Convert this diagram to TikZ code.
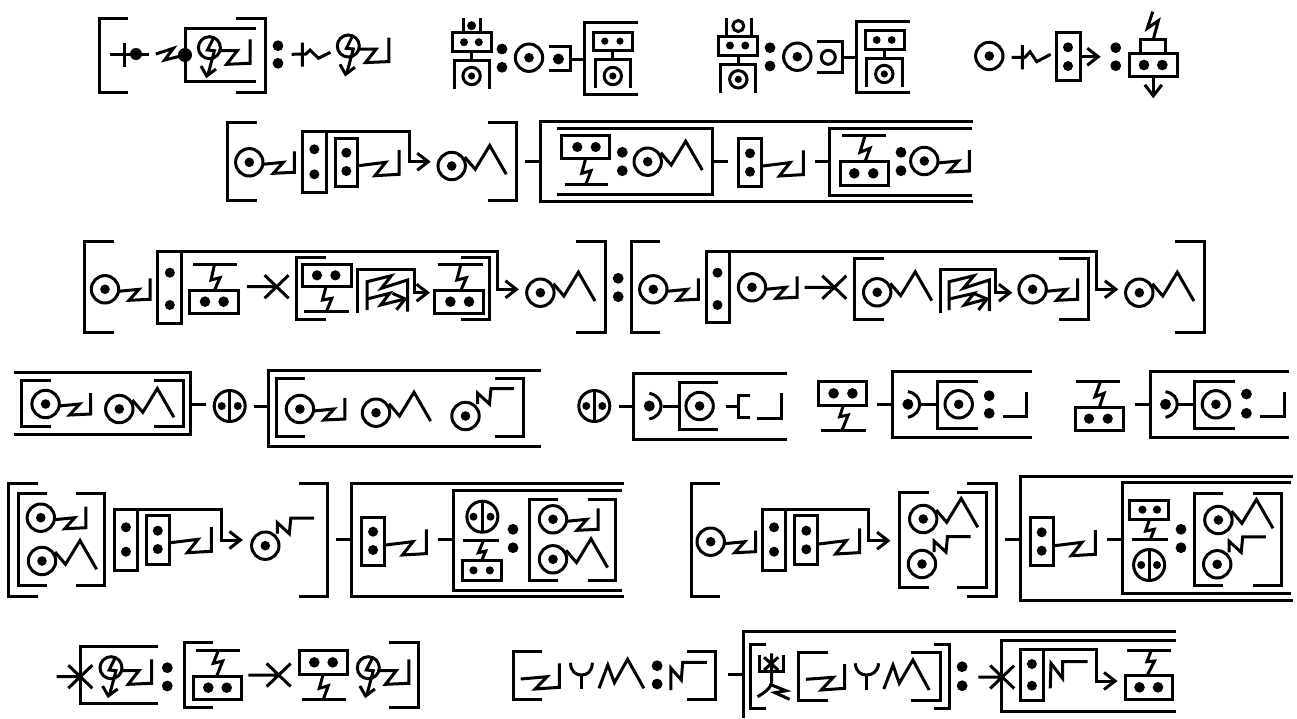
\documentclass[tikz,border=0pt]{standalone}
\usepackage{tikz}
\usetikzlibrary{arrows.meta}
\tikzset{
  ar/.style = {-{Straight Barb[length=11pt,width=17pt]}},
}
% rings, all placed by their centre
\newcommand{\ringdot}[2]{\draw (#1,#2) circle[radius=13.7]; \fill (#1,#2) circle[radius=4.8];}
\newcommand{\ringsm}[2]{\draw (#1,#2) circle[radius=8.7]; \fill (#1,#2) circle[radius=3.6];}
\newcommand{\spot}[3]{\fill (#1,#2) circle[radius=#3];}
\newcommand{\twospot}[3]{\spot{#1}{#2}{5.4}\spot{#1}{#3}{5.4}}
% ring with its tail
\newcommand{\ringz}[2]{\ringdot{#1}{#2}
  \draw[shift={(#1,#2)}] (13.5,2) -- (34,0) -- (24,11) -- (45,10) -- (45,-11);}
\newcommand{\ringpeak}[2]{\ringdot{#1}{#2}
  \draw[shift={(#1,#2)}] (13,-9) -- (23.5,3.3) -- (38,-20.5) -- (54.6,8.3);}
\newcommand{\ringflag}[2]{\ringdot{#1}{#2}
  \draw[shift={(#1,#2)}] (12,-12) -- (12,-23) -- (24,-12) -- (25.5,-27.5) -- (48.7,-27.5);}
\newcommand{\boxz}[2]{\draw[shift={(#1,#2)}] (0,0) -- (27.4,-3.4) -- (16.7,10) -- (40.7,8.6) -- (40.7,-15.7);}
\newcommand{\ringbolt}[2]{\begin{scope}[shift={(#1,#2)}]
  \draw (0,0) circle[radius=11];
  \draw (3.6,-8.7) -- (-1.9,2.3) -- (5,3) -- (-1.5,27.3);
  \draw (-8.4,18.3) -- (-2.7,28.3) -- (6.6,21.3);
  \draw (11.5,3) -- (27.9,3) -- (17.2,16.6) -- (40.6,15.6) -- (40.6,-8.4);
\end{scope}}
% brackets: bar x, top, bottom, end of the arms
\newcommand{\lbr}[4]{\draw (#4,#2) -- (#1,#2) -- (#1,#3) -- (#4,#3);}
% dotted boxes
\newcommand{\boxh}[6]{\draw (#1,#2) rectangle (#3,#4);
  \spot{#5}{#2/2+#4/2}{(#4-#2-19)*0.3+4}\spot{#6}{#2/2+#4/2}{(#4-#2-19)*0.3+4}}
\newcommand{\boxv}[6]{\draw (#1,#3) rectangle (#2,#4);
  \spot{#1/2+#2/2}{#5}{5}\spot{#1/2+#2/2}{#6}{5}}
\newcommand{\splitring}[4]{\draw (#1,#2) circle[radius=15.5];
  \draw (#1,#2-15.5) -- (#1,#2+15.5); \spot{#3}{#2}{4}\spot{#4}{#2}{4}}
\newcommand{\cross}[3]{\draw (#1,#2) -- (#1+12,#2-11.5) (#1,#2) -- (#1-12,#2-11.5)
  (#1,#2) -- (#1+12,#2+11.5) (#1,#2) -- (#1-12,#2+11.5) (#3,#2) -- (#1,#2);}

\begin{document}
\begin{tikzpicture}[x=1pt,y=-1pt,line width=3pt]
\useasboundingbox (0,0) rectangle (1297,718);
\fill[white] (0,0) rectangle (1297,718);

% --- first row ---
\lbr{99.6}{18}{92}{128}
\lbr{265}{18}{92}{236}
\draw (110,54) -- (149,54) (124.4,42.7) -- (124.4,66.7);
\spot{136}{54}{6}
\draw (155.8,54) -- (173.4,48.3) -- (164.6,60) -- (185,55);
\spot{185}{55}{7}
\lbr{185}{28.3}{81}{255.7}
\ringbolt{209.4}{47.7}
\twospot{278}{45.7}{63.3}
\draw (291.7,54.3) -- (306,54) -- (310,50) -- (318.5,58.3) -- (330.3,52.3) (302.4,42.7) -- (302.4,66.7);
\ringbolt{348.3}{46}

\draw (463,18.3) -- (463,32.7) (480.4,18.3) -- (480.4,32.7);
\spot{471.6}{25.7}{4.5}
\boxh{452.4}{32.7}{491}{51.7}{464}{478.8}
\draw (471.6,51.7) -- (471.6,60);
\draw (454,89.3) -- (454,60) -- (489.5,60) -- (489.5,89.3);
\ringsm{471.6}{76}
\twospot{502}{49}{67.3}
\ringdot{529}{57.7}
\lbr{570.3}{46.7}{70.7}{548.5}
\spot{558.4}{59}{5.5}
\draw (570.3,59) -- (584.9,59);
\lbr{584.9}{22.7}{94.7}{638.4}
\boxh{593.3}{32.3}{632.3}{50}{604.8}{620}
\draw (612.8,50) -- (612.8,59.3);
\draw (595.2,88.3) -- (595.2,59.3) -- (630.8,59.3) -- (630.8,88.3);
\ringsm{612.8}{76}

\draw (726,18.3) -- (726,36) (751,18.3) -- (751,36);
\draw (738.3,26) circle[radius=5.5];
\boxh{718.3}{36}{757.7}{55}{730}{745.3}
\draw (738.3,55) -- (738.3,64);
\draw (720,92.7) -- (720,64) -- (755.7,64) -- (755.7,92.7);
\ringsm{738.3}{79.3}
\twospot{770}{47.7}{66}
\ringdot{797.3}{56.7}
\lbr{842.3}{41.7}{72.3}{816.7}
\draw (828.3,57.3) circle[radius=7];
\draw (842.3,57.3) -- (856.7,57.3);
\lbr{856.7}{21.7}{92.7}{910}
\boxh{865}{30.7}{904}{49.3}{876.7}{891.7}
\draw (884.3,49.3) -- (884.3,58.3);
\draw (866.7,87.3) -- (866.7,58.3) -- (902.3,58.3) -- (902.3,87.3);
\ringsm{884.3}{74}

\ringdot{989.3}{56}
\draw (1011.7,57.3) -- (1025,57.3) -- (1030,51.7) -- (1036.7,61.7) -- (1050.7,54.3) (1022.3,45) -- (1022.3,69.3);
\boxv{1056}{1080}{32.3}{80}{47.3}{66}
\draw[ar] (1080,56.7) -- (1100.7,56.7);
\twospot{1115.7}{47.7}{65.7}
\draw (1152.7,11.7) -- (1147.3,28.3) -- (1158.3,20.7) -- (1153.3,39.3);
\draw (1140,53.3) -- (1140,39.3) -- (1165,39.3) -- (1165,53.3);
\boxh{1129}{53.3}{1177.3}{76.7}{1144}{1162.3}
\draw[ar] (1153.3,76.7) -- (1153.3,98.3);

% --- second row ---
\lbr{227.3}{122.7}{200.7}{256.7}
\ringz{249.3}{162.3}
\boxv{302.7}{326}{131.7}{192.7}{149.3}{174.3}
\draw[ar] (326,131.7) -- (409.3,131.7) -- (409.3,161.7) -- (430.7,161.7);
\boxv{335}{357.7}{138.3}{186}{152.7}{171}
\boxz{358.3}{165.7}
\ringpeak{451.7}{166}
\lbr{516}{122.7}{200.7}{487.7}
\draw (525,161) -- (540,161);
\draw (973,121) -- (540,121) -- (540,201) -- (973,201);
\lbr{712.7}{128.3}{194}{556.7}
\boxh{561.7}{135.7}{609.3}{158.3}{577.3}{595.7}
\draw (585.7,158.3) -- (581.7,173.3) -- (591,170.7) -- (586,184);
\draw (565,184) -- (608.3,184);
\twospot{622.3}{152.3}{170.7}
\ringpeak{647.7}{161.7}
\draw (713.3,161) -- (728.3,161);
\boxv{738.3}{761.7}{138.3}{186.7}{153.3}{171.7}
\boxz{762.7}{166}
\draw (815,161) -- (829.3,161);
\lbr{829.3}{128.3}{195}{971.7}
\draw (841.7,135.7) -- (885.7,135.7);
\draw (865,135.7) -- (860,152.3) -- (870,148.3) -- (865,161.7);
\boxh{840}{161.7}{888.3}{185}{854.3}{873.3}
\twospot{901}{152.3}{170.7}
\ringz{924.3}{161}

% --- third row, left ---
\lbr{84.3}{241}{332.7}{113.6}
\ringz{105}{289.3}
\boxv{157.9}{181.8}{251.7}{323.3}{272.7}{305}
\draw[ar] (181.8,251.7) -- (497.9,251.7) -- (497.9,289.3) -- (518.9,289.3);
\draw (193.2,264) -- (237.1,264);
\draw (214.6,264) -- (211,280) -- (220,277.7) -- (214.6,290);
\boxh{189.6}{290}{238.6}{313.3}{205}{223.6}
\cross{276.6}{286.7}{246.8}
\lbr{296}{257.7}{319.3}{326}
\boxh{302.9}{264}{351.4}{286.7}{317}{335.4}
\draw (326,286.7) -- (322.5,300) -- (331.8,298.3) -- (326.4,311.7);
\draw (303.9,311.7) -- (348.6,311.7);
\draw[ar] (357.5,313.3) -- (357.5,269.3) -- (414,269.3) -- (414,292.7) -- (430,292.7);
\draw (367,310) -- (367,281.7) -- (391.4,275.7) -- (381.4,288.3) -- (407.5,280) -- (407.5,311.7);
\draw[ar] (367,299) -- (389.6,293.3) -- (380.7,305) -- (407.5,298.3);
\draw (437.9,264) -- (482.5,264);
\draw (461,264) -- (456.8,280) -- (466.4,277.7) -- (461,290);
\boxh{434.3}{290}{483.2}{313.3}{450.4}{469}
\lbr{489}{257.7}{319.3}{461}
\ringpeak{540.4}{292.7}
\lbr{605}{241}{332.7}{576.4}
\twospot{618.2}{278.3}{296.7}

% --- third row, right ---
\lbr{631.5}{241}{332.7}{660}
\ringz{653.3}{289.3}
\boxv{706}{729}{251.7}{322.7}{272.7}{305}
\draw[ar] (729,251.7) -- (1096.4,251.7) -- (1096.4,289.3) -- (1118.3,289.3);
\ringz{752}{287.3}
\cross{834.3}{287.3}{804.5}
\lbr{854.6}{258.3}{319.3}{884}
\ringpeak{877.2}{292.3}
\draw[ar] (940,313.3) -- (940,269.3) -- (995.8,269.3) -- (995.8,292.7) -- (1012.3,292.7);
\draw (949.1,310) -- (949.1,281.7) -- (974,275.7) -- (963.3,288.3) -- (989.3,280) -- (989.3,311);
\draw[ar] (949.1,299) -- (974,293.3) -- (964.4,305) -- (989.3,298.3);
\ringz{1032.6}{289.3}
\lbr{1088.8}{258.3}{319.3}{1059.3}
\ringpeak{1139.3}{292.7}
\lbr{1204.4}{241}{332.7}{1175}

% --- fourth row, left ---
\lbr{190.5}{372.3}{434}{14}
\lbr{21.7}{380}{426.7}{50.9}
\lbr{183.4}{380}{426.7}{154.3}
\ringz{45.6}{404}
\ringpeak{119.3}{409}
\draw (190.5,404.3) -- (205.9,404.3);
\splitring{229.7}{406}{221.7}{237.8}
\draw (253.6,406) -- (268.3,406);
\lbr{268.3}{370}{446}{541.2}
\lbr{276.4}{378.3}{436}{305.2}
\ringz{299.9}{409}
\ringpeak{376}{412.7}
\ringflag{465.5}{416}
\lbr{523.7}{378.3}{436}{494.6}

% --- fourth row, right ---
\splitring{594.3}{406}{586.3}{602.3}
\draw (618.8,406) -- (633.8,406);
\lbr{633.8}{373.3}{439}{786.6}
\spot{649.3}{406}{5.5}
\draw (649.3,393.3) .. controls (665,396) and (665,416) .. (649.3,419);
\draw (662.5,406) -- (679,406);
\lbr{679}{382.3}{429.3}{718.4}
\ringdot{699.6}{406}
\draw (725.5,406) -- (738.7,406);
\lbr{738.7}{395}{417.3}{750.4}
\draw (756.5,418.3) -- (781,418.3) -- (781,393.3);

\boxh{818.6}{381.7}{866.5}{405}{833.6}{852.4}
\draw (843.5,405) -- (839.7,416.7) -- (848.2,415) -- (842,430.3);
\draw (821,430.3) -- (865.6,430.3);
\draw (877.4,404.3) -- (892.4,404.3);
\lbr{892.4}{371.7}{437.7}{1031.6}
\spot{907.9}{404.3}{5.5}
\draw (907.9,391.7) .. controls (923.6,394) and (923.6,414) .. (907.9,417.3);
\draw (920.6,404.3) -- (937.5,404.3);
\lbr{937.5}{381}{428.3}{977.5}
\ringdot{958.7}{404.3}
\twospot{989.2}{395.7}{413.3}
\draw (1002.9,416.7) -- (1026.9,416.7) -- (1026.9,392.3);

\draw (1075.7,381) -- (1120.4,381);
\draw (1100.7,381) -- (1095,396.7) -- (1104,393.3) -- (1099.3,407.3);
\boxh{1075.7}{407.3}{1123.2}{430}{1089}{1107.7}
\draw (1134.5,404.3) -- (1150,404.3);
\lbr{1150}{371}{437.7}{1288.7}
\spot{1165.5}{404.3}{5.5}
\draw (1165.5,391.7) .. controls (1181.2,394) and (1181.2,414) .. (1165.5,417.3);
\draw (1178.3,404.3) -- (1194.7,404.3);
\lbr{1194.7}{381}{428.3}{1234.7}
\ringdot{1215.9}{404.3}
\twospot{1246.4}{394}{413.3}
\draw (1259.6,416.7) -- (1284,416.7) -- (1284,392.3);

% --- fifth row, left ---
\lbr{8.2}{483.3}{596}{37.6}
\lbr{18.4}{493.3}{585.7}{47}
\lbr{104.9}{493.3}{585.7}{75.5}
\ringz{40.8}{517.7}
\ringpeak{42}{561}
\boxv{114.3}{137.6}{509}{570}{527.3}{551.7}
\draw[ar] (137.6,509) -- (221.2,509) -- (221.2,540) -- (242.9,540);
\boxv{146.1}{169.4}{515.7}{564}{530.7}{549}
\boxz{170.6}{542.7}
\ringflag{265.3}{545.7}
\lbr{327.8}{483.3}{596}{298.8}
\draw (335.9,539.3) -- (351,539.3);
\draw (623.7,483.3) -- (351,483.3) -- (351,596.7) -- (623.7,596.7);
\boxv{361.2}{384.9}{517.3}{565}{531.7}{550}
\boxz{385.7}{545}
\draw (437.6,539.3) -- (453,539.3);
\lbr{453}{490}{590}{622.4}
\splitring{482.4}{516.7}{473.5}{490.5}
\draw (463.3,540) -- (498.8,540);
\draw (483.7,540) -- (478.4,552.7) -- (485.7,551) -- (481.6,560.7);
\boxh{462}{560.7}{501.2}{580}{473.5}{489.8}
\twospot{513}{529.3}{547.7}
\lbr{529.4}{499}{580}{558.4}
\lbr{615.5}{499}{580}{587.8}
\ringz{553}{519.3}
\ringpeak{553}{559.3}

% --- fifth row, right ---
\lbr{691}{483.3}{596}{720.1}
\ringz{710.7}{541.7}
\boxv{762.6}{785.5}{509.3}{570.7}{527.3}{551.7}
\draw[ar] (785.5,509.3) -- (868.9,509.3) -- (868.9,540.7) -- (890.5,540.7);
\boxv{794.9}{817.7}{515.7}{564}{530.7}{549.3}
\boxz{818.9}{544}
\lbr{899.6}{492.3}{587.3}{928.7}
\lbr{986.2}{492.3}{587.3}{957.4}
\lbr{996.8}{483.3}{596}{967.3}
\ringpeak{923.2}{519}
\ringflag{922}{564}
\draw (1004.7,539.3) -- (1020.4,539.3);
\lbr{1020.4}{476}{600}{1292.7}
\boxv{1030.3}{1053.1}{517.3}{565}{532.3}{550.7}
\boxz{1054.6}{545.7}
\draw (1107,539.3) -- (1122.7,539.3);
\lbr{1122.7}{482.7}{593.3}{1291.2}
\boxh{1129.8}{500}{1168.8}{519.3}{1142.4}{1157}
\draw (1149.5,519.3) -- (1145.6,531) -- (1154.2,529.3) -- (1150.3,539.7);
\draw (1131.8,539.7) -- (1168,539.7);
\splitring{1149.1}{565}{1141.2}{1157}
\twospot{1181}{529.3}{547.7}
\lbr{1194.8}{493.3}{585.7}{1223}
\lbr{1281}{493.3}{585.7}{1252.6}
\ringpeak{1218.4}{520}
\ringflag{1217.2}{564.3}

% --- last row, left ---
\cross{80.3}{676.7}{56.7}
\lbr{80}{646}{703.3}{157.7}
\ringbolt{111}{667.7}
\twospot{167.3}{667.7}{686}
\lbr{184}{642.7}{707.3}{213.3}
\draw (196,650.7) -- (240,650.7);
\draw (218.3,650.7) -- (213.3,663.3) -- (222.7,661) -- (216.7,676);
\boxh{193.3}{676}{241.7}{699.3}{208.3}{226.7}
\cross{278.7}{675}{248.3}
\boxh{299.3}{650.7}{347.3}{674}{314.3}{332.7}
\draw (323.3,674) -- (319.3,688.3) -- (328.3,685.7) -- (323.3,699.3);
\draw (302.3,699.3) -- (345.7,699.3);
\ringbolt{368.3}{667.7}
\lbr{418.3}{642.7}{707.3}{389.3}

% --- last row, right ---
\lbr{513.2}{651}{699}{541.8}
\draw (520.7,679) -- (547.1,676.7) -- (535.2,689) -- (559.4,687.3) -- (559.4,663.3);
\draw (570.4,662.7) .. controls (571,672) and (576,675) .. (581.4,675) .. controls (587,675) and (592,672) .. (592.4,662.7);
\draw (581.4,675) -- (581.4,689);
\draw (599,688.3) -- (607.8,665) -- (614.4,682.7) -- (627.6,659.3) -- (643.9,688.3);
\twospot{657.1}{665.7}{684}
\draw (670.8,690) -- (670.8,668) -- (681.3,680) -- (682.7,662.3) -- (706.9,662.3);
\lbr{715.7}{651}{699}{687.1}
\draw (728,674.3) -- (743,674.3);
\draw (1175.6,631.7) -- (743,631.7) -- (743,718);
\lbr{750}{644}{708.3}{766.3}
\draw (759.7,655) -- (759.7,671.7) -- (783,671.7) -- (783,655);
\draw (771.6,653.3) -- (771.6,683) (764.1,657.3) -- (778.2,670) (764.1,670) -- (778.2,657.3);
\draw (757.5,696.7) .. controls (764,693) and (770,689) .. (771.6,683);
\draw (771.6,685) -- (786,690.7) -- (775,692.7) -- (789.6,699.3);
\lbr{798.4}{652.3}{700}{827.9}
\draw (805.9,679.3) -- (833.2,677.3) -- (821.3,690) -- (844.6,688.3) -- (844.6,664);
\draw (855.2,663.3) .. controls (856,672) and (861,675) .. (866.6,675) .. controls (872,675) and (878,672) .. (878.5,663.3);
\draw (866.6,675) -- (866.6,690);
\draw (883.8,689) -- (893,665) -- (899.2,683.3) -- (912.9,660) -- (929.1,690);
\lbr{940.1}{652.3}{700}{910.6}
\lbr{949.8}{644}{708.3}{933.5}
\twospot{962.1}{666.7}{685.7}
\cross{1002.2}{677}{978.4}
\lbr{1001.8}{640}{711}{1175.6}
\boxv{1020.2}{1043.6}{649}{700}{664}{685.7}
\draw[ar] (1043.6,649) -- (1096.4,649) -- (1096.4,681) -- (1117.5,681);
\draw (1050.2,688.3) -- (1051,663.3) -- (1062.5,678.3) -- (1062.5,661.7) -- (1087.6,661.7);
\draw (1127.2,650) -- (1171.2,650);
\draw (1151.4,650) -- (1147,661.7) -- (1154.5,661) -- (1147,675.7);
\boxh{1125}{675.7}{1172.5}{699}{1139.5}{1158}
\end{tikzpicture}
\end{document}
